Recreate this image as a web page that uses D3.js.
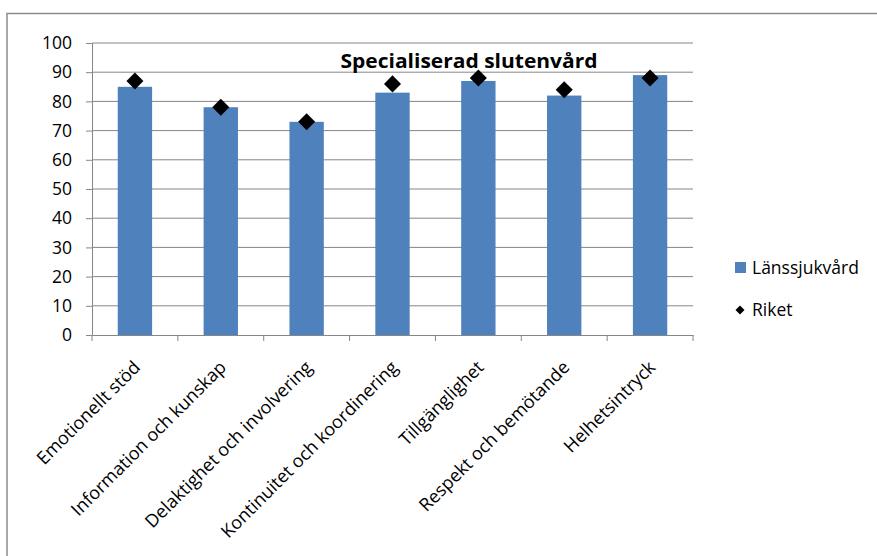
<!DOCTYPE html>
<html><head><meta charset="utf-8">
<script src="https://cdn.jsdelivr.net/npm/d3@7"></script>
<style>html,body{margin:0;padding:0;background:#fff;overflow:hidden}svg{display:block}</style>
</head><body>
<svg id="c" width="877" height="556"></svg>
<script>
const categories = ["Emotionellt stöd","Information och kunskap","Delaktighet och involvering","Kontinuitet och koordinering","Tillgänglighet","Respekt och bemötande","Helhetsintryck"];
const lansValues = [85, 78, 73, 83, 87, 82, 89];
const riketValues = [87, 78, 73, 86, 88, 84, 88];
const yTicks = [0,10,20,30,40,50,60,70,80,90,100];
const seriesNames = ["Länssjukvård","Riket"];
const title = "Specialiserad slutenvård";

(function(){
const svg = d3.select("#c");
const font = "'Open Sans', sans-serif";
const grid = "#868686";

// outer frame (top and left edges visible)
svg.append("path").attr("d","M7,560 V13.5 H880")
  .attr("fill","none").attr("stroke","#8c8c8c").attr("stroke-width",1.5);

const pL = 92, pR = 693, pT = 43, pB = 335;
const x = d3.scaleBand().domain(categories).range([pL,pR]).paddingInner(0.6).paddingOuter(0.3);
const xb = d3.scaleBand().domain(categories).range([pL,pR]);
const y = d3.scaleLinear().domain([0,100]).range([pB,pT]);

// gridlines
svg.append("g").selectAll("line").data(yTicks.filter(d=>d>0)).join("line")
  .attr("x1",pL).attr("x2",pR).attr("y1",d=>y(d)).attr("y2",d=>y(d))
  .attr("stroke",grid).attr("stroke-width",1);

// y axis
const ya = svg.append("g").attr("transform",`translate(${pL},0)`)
  .call(d3.axisLeft(y).tickValues(yTicks).tickSize(6).tickPadding(14));
ya.select(".domain").attr("stroke",grid);
ya.selectAll(".tick line").attr("stroke",grid);
ya.selectAll(".tick text").attr("font-family",font).attr("font-size",17.5).attr("fill","#000");

// bars
svg.append("g").selectAll("rect").data(categories).join("rect")
  .attr("x",d=>x(d)).attr("width",x.bandwidth())
  .attr("y",(d,i)=>y(lansValues[i])).attr("height",(d,i)=>pB-y(lansValues[i]))
  .attr("fill","#4f81bd");

// x axis
const xa = svg.append("g").attr("transform",`translate(0,${pB})`)
  .call(d3.axisBottom(xb).tickSize(0).tickFormat(""));
xa.select(".domain").attr("stroke",grid);
const bounds = categories.map(d=>xb(d)).concat([pR]);
svg.append("g").selectAll("line").data(bounds).join("line")
  .attr("x1",d=>d).attr("x2",d=>d).attr("y1",pB).attr("y2",pB+6)
  .attr("stroke",grid);

// x labels
svg.append("g").selectAll("text").data(categories).join("text")
  .attr("transform",d=>`translate(${xb(d)+xb.bandwidth()/2+2},${pB+29}) rotate(-45)`)
  .attr("text-anchor","end").attr("font-family",font).attr("font-size",18)
  .attr("dy","0.35em").text(d=>d);

// markers
const diamond = d3.symbol().type(d3.symbolDiamond2).size(185);
svg.append("g").selectAll("path").data(categories).join("path")
  .attr("d",diamond)
  .attr("transform",(d,i)=>`translate(${xb(d)+xb.bandwidth()/2},${y(riketValues[i])})`)
  .attr("fill","#000");

// title
svg.append("text").attr("x",469).attr("y",68).attr("text-anchor","middle")
  .attr("font-family",font).attr("font-weight","bold").attr("font-size",19.5)
  .attr("textLength",257).attr("lengthAdjust","spacingAndGlyphs").text(title);

// legend
const lg = svg.append("g");
lg.append("rect").attr("x",735).attr("y",262).attr("width",11).attr("height",11).attr("fill","#4f81bd");
lg.append("text").attr("x",752).attr("y",268).attr("dy","0.35em").attr("font-family",font).attr("font-size",17.5).text(seriesNames[0]);
lg.append("path").attr("d",d3.symbol().type(d3.symbolDiamond2).size(52)).attr("transform","translate(740,310)").attr("fill","#000");
lg.append("text").attr("x",752).attr("y",310).attr("dy","0.35em").attr("font-family",font).attr("font-size",17.5).text(seriesNames[1]);
})();
</script>
</body></html>
